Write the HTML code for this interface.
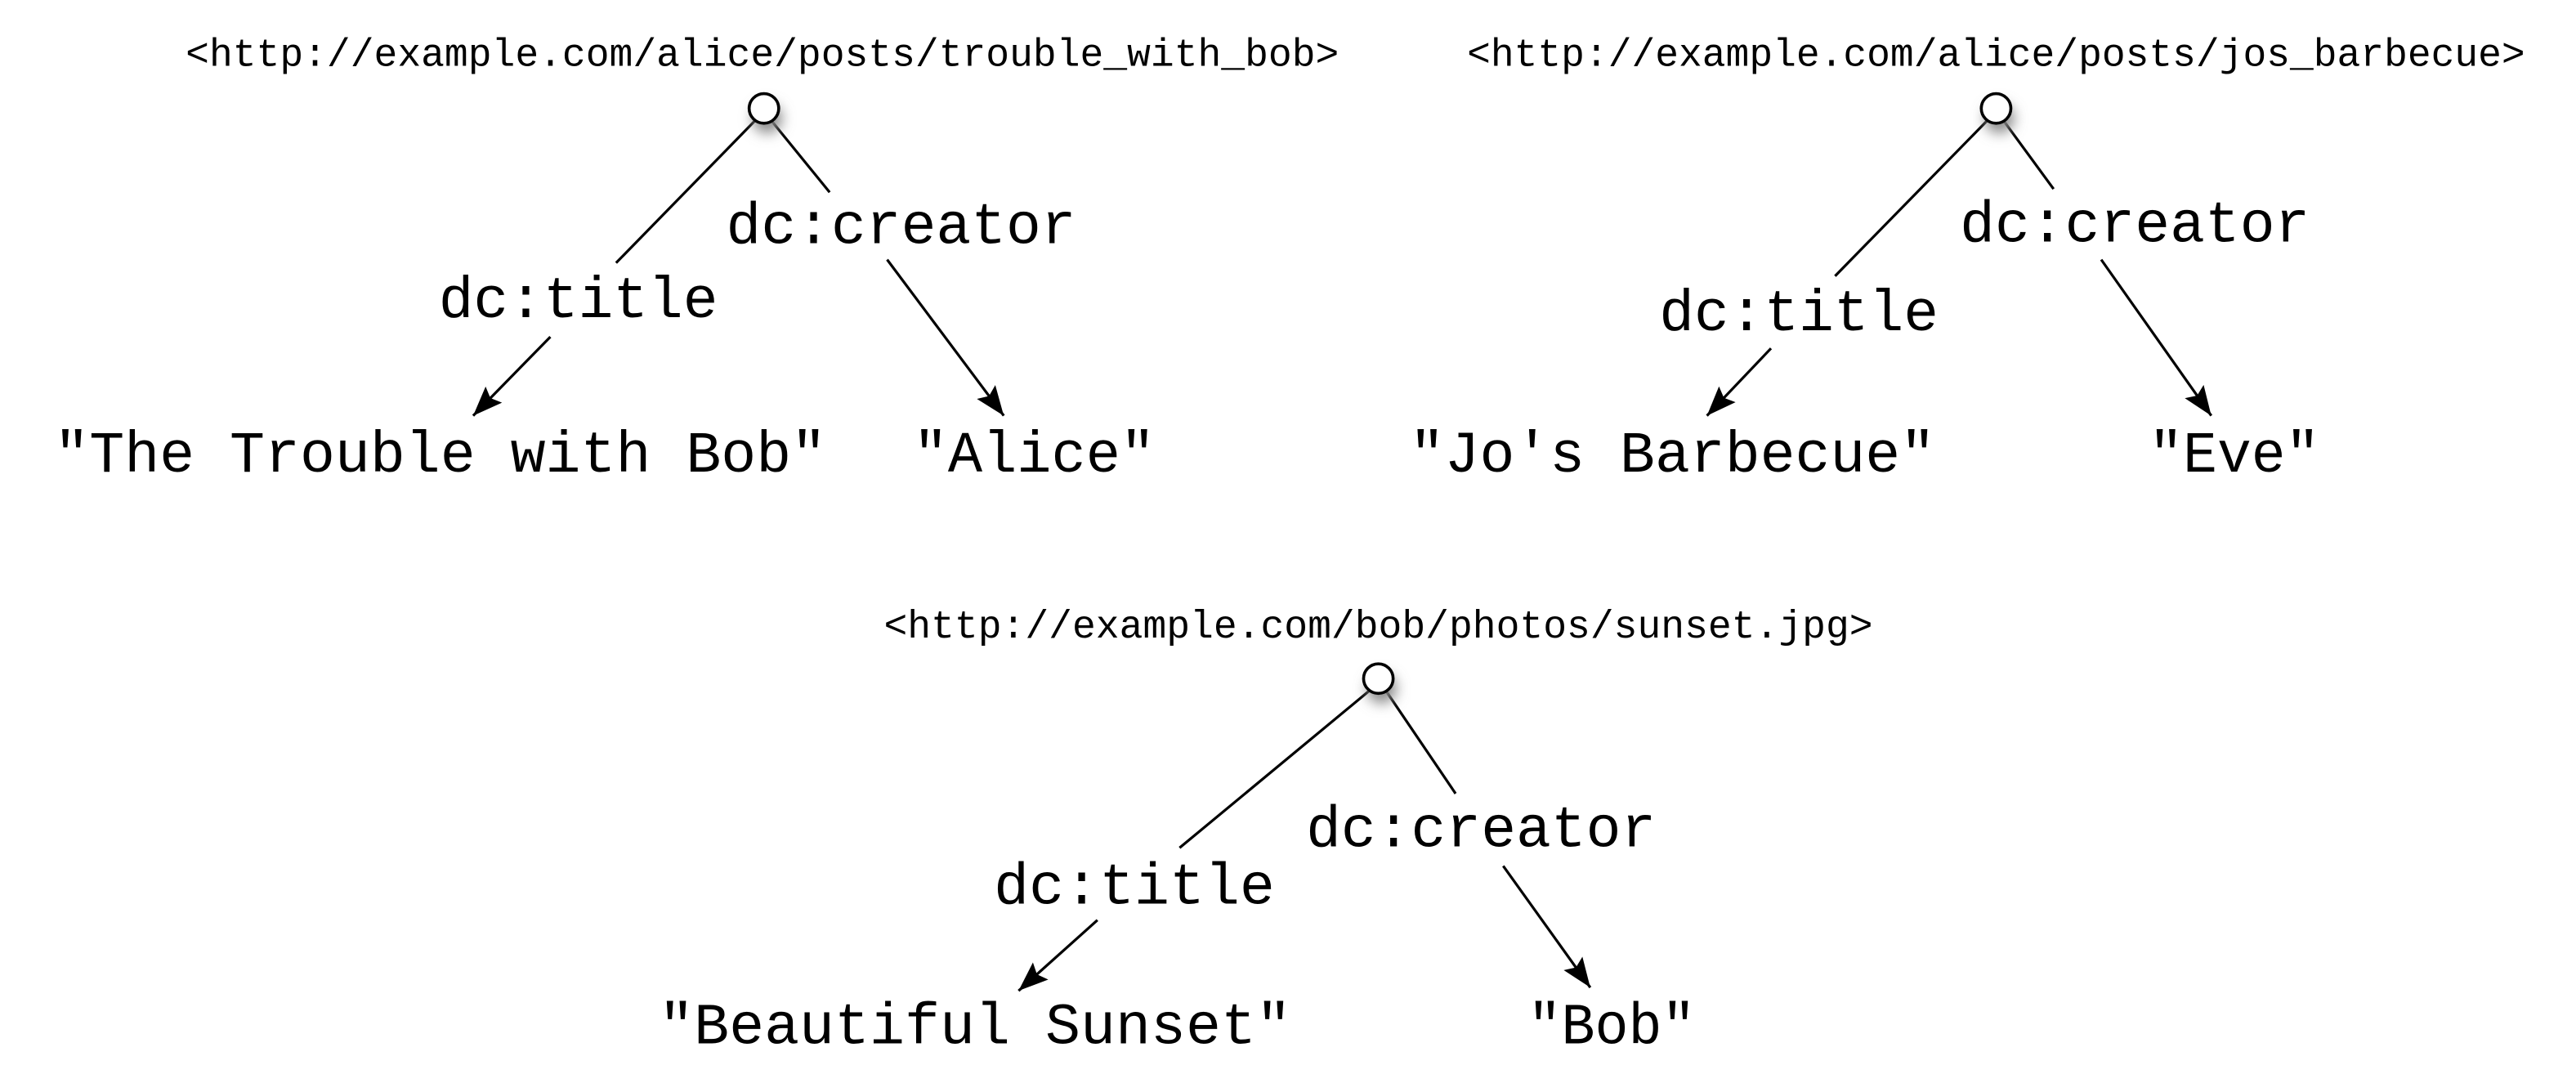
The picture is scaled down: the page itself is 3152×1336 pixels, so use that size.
<!DOCTYPE html>
<html><head><meta charset="utf-8"><style>
html,body{margin:0;padding:0;background:#fff;}
svg{display:block;}
text{font-family:"Liberation Mono",monospace;fill:#000;}
.u{font-size:23.9px;}
.l{font-size:35.5px;}
line{stroke:#000;stroke-width:1.6;}
</style></head><body>
<svg width="3152" height="1336" viewBox="0 0 1568 664.6" xmlns="http://www.w3.org/2000/svg">
<defs>
<filter id="sh" x="-2" y="-2" width="5" height="5"><feGaussianBlur stdDeviation="4"/></filter>
<marker id="a" viewBox="0 0 18 14" refX="18" refY="7" markerWidth="18" markerHeight="14" markerUnits="userSpaceOnUse" orient="auto"><path d="M0,0 L18,7 L0,14 L3,7 Z" fill="#000"/></marker>
</defs>

<!-- Tree 1 -->
<text class="u" x="113" y="40" textLength="702" lengthAdjust="spacingAndGlyphs">&lt;http://example.com/alice/posts/trouble_with_bob&gt;</text>
<line x1="460" y1="73" x2="375" y2="160"/>
<line x1="470" y1="74" x2="505" y2="117"/>
<line x1="335" y1="205" x2="288" y2="253" marker-end="url(#a)"/>
<line x1="540" y1="158" x2="611" y2="253" marker-end="url(#a)"/>
<circle cx="467" cy="72" r="9" fill="#888" filter="url(#sh)"/>
<circle cx="465" cy="66" r="9" fill="#fff" stroke="#000" stroke-width="1.8"/>
<text class="l" x="442" y="148" textLength="213" lengthAdjust="spacingAndGlyphs">dc:creator</text>
<text class="l" x="267" y="193" textLength="170" lengthAdjust="spacingAndGlyphs">dc:title</text>
<text class="l" x="33" y="287" textLength="470" lengthAdjust="spacingAndGlyphs">"The Trouble with Bob"</text>
<text class="l" x="556" y="287" textLength="147" lengthAdjust="spacingAndGlyphs">"Alice"</text>

<!-- Tree 2 -->
<text class="u" x="893" y="40" textLength="644" lengthAdjust="spacingAndGlyphs">&lt;http://example.com/alice/posts/jos_barbecue&gt;</text>
<line x1="1210" y1="73" x2="1117" y2="168"/>
<line x1="1220" y1="74" x2="1250" y2="115"/>
<line x1="1078" y1="212" x2="1039" y2="253" marker-end="url(#a)"/>
<line x1="1279" y1="158" x2="1346" y2="253" marker-end="url(#a)"/>
<circle cx="1217" cy="72" r="9" fill="#888" filter="url(#sh)"/>
<circle cx="1215" cy="66" r="9" fill="#fff" stroke="#000" stroke-width="1.8"/>
<text class="l" x="1193" y="147" textLength="213" lengthAdjust="spacingAndGlyphs">dc:creator</text>
<text class="l" x="1010" y="201" textLength="170" lengthAdjust="spacingAndGlyphs">dc:title</text>
<text class="l" x="858" y="287" textLength="320" lengthAdjust="spacingAndGlyphs">"Jo's Barbecue"</text>
<text class="l" x="1308" y="287" textLength="104" lengthAdjust="spacingAndGlyphs">"Eve"</text>

<!-- Tree 3 -->
<text class="u" x="538" y="388" textLength="602" lengthAdjust="spacingAndGlyphs">&lt;http://example.com/bob/photos/sunset.jpg&gt;</text>
<line x1="834" y1="420" x2="718" y2="516"/>
<line x1="844" y1="421" x2="886" y2="483"/>
<line x1="668" y1="560" x2="620" y2="603" marker-end="url(#a)"/>
<line x1="915" y1="527" x2="968" y2="601" marker-end="url(#a)"/>
<circle cx="841" cy="419" r="9" fill="#888" filter="url(#sh)"/>
<circle cx="839" cy="413" r="9" fill="#fff" stroke="#000" stroke-width="1.8"/>
<text class="l" x="795" y="515" textLength="213" lengthAdjust="spacingAndGlyphs">dc:creator</text>
<text class="l" x="605" y="550" textLength="171" lengthAdjust="spacingAndGlyphs">dc:title</text>
<text class="l" x="401" y="635" textLength="385" lengthAdjust="spacingAndGlyphs">"Beautiful Sunset"</text>
<text class="l" x="930" y="635" textLength="102" lengthAdjust="spacingAndGlyphs">"Bob"</text>
</svg>
</body></html>
